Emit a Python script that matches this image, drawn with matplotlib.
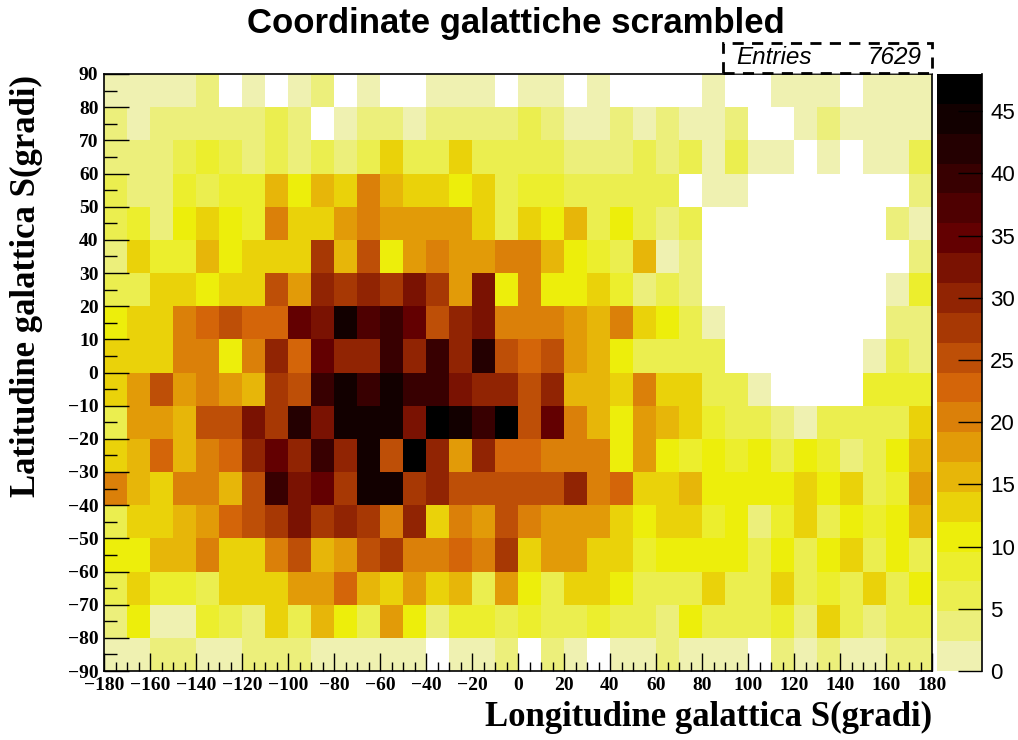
import numpy as np
import matplotlib
matplotlib.use("Agg")
import matplotlib.pyplot as plt
from matplotlib.colors import ListedColormap, BoundaryNorm
from matplotlib.patches import Rectangle
from matplotlib.lines import Line2D
from matplotlib.ticker import MultipleLocator

# 10x10 degree bins
lon_edges = np.arange(-180, 181, 10)
lat_edges = np.arange(-90, 91, 10)

# counts per bin, one list per latitude band (name = lower edge), lon -180 -> 180
row_80 = [2, 2, 2, 2, 4, 0, 2, 0, 2, 4, 0, 2, 0, 0, 2, 2, 2, 0, 2, 2, 0, 2, 0, 0, 0, 0, 2, 0, 0, 2, 2, 2, 0, 2, 2, 2]
row_70 = [4, 2, 4, 3, 4, 4, 3, 6, 4, 0, 2, 4, 4, 2, 4, 4, 3, 4, 6, 4, 2, 1, 4, 2, 3, 2, 2, 4, 0, 0, 2, 4, 1, 2, 2, 2]
row_60 = [4, 4, 4, 6, 9, 6, 4, 6, 4, 7, 4, 6, 13, 6, 6, 13, 6, 6, 7, 6, 4, 4, 4, 6, 4, 6, 2, 6, 2, 2, 0, 2, 0, 2, 1, 6]
row_50 = [6, 4, 3, 8, 6, 9, 8, 16, 11, 15, 13, 21, 16, 13, 14, 11, 13, 6, 8, 9, 6, 6, 7, 6, 6, 0, 2, 2, 0, 0, 0, 0, 0, 0, 0, 4]
row_40 = [6, 9, 4, 11, 13, 11, 9, 21, 13, 14, 18, 20, 18, 19, 18, 18, 13, 6, 14, 11, 15, 6, 10, 6, 4, 6, 0, 0, 0, 0, 0, 0, 0, 0, 4, 2]
row_30 = [4, 13, 8, 9, 16, 11, 13, 14, 13, 28, 16, 25, 11, 18, 21, 18, 19, 20, 21, 16, 11, 8, 6, 15, 2, 4, 0, 0, 0, 0, 0, 0, 0, 0, 0, 4]
row_20 = [6, 7, 13, 14, 11, 13, 12, 25, 18, 30, 27, 31, 28, 32, 27, 18, 33, 11, 20, 10, 11, 13, 9, 4, 6, 4, 0, 0, 0, 0, 0, 0, 0, 0, 2, 9]
row_10 = [10, 12, 13, 20, 22, 24, 22, 22, 34, 32, 44, 36, 39, 34, 25, 29, 32, 20, 20, 20, 17, 15, 20, 12, 10, 5, 1, 0, 0, 0, 0, 0, 0, 0, 3, 3]
row_0 = [12, 14, 12, 20, 20, 10, 20, 29, 22, 34, 29, 30, 39, 29, 39, 29, 41, 24, 22, 24, 17, 15, 10, 5, 5, 6, 5, 0, 0, 0, 0, 0, 0, 1, 5, 3]
row_m10 = [12, 17, 24, 17, 20, 17, 15, 27, 24, 39, 44, 39, 44, 39, 39, 32, 29, 29, 24, 29, 15, 15, 12, 20, 12, 13, 5, 6, 1, 0, 0, 0, 0, 8, 8, 8]
row_m20 = [5, 17, 18, 15, 24, 25, 32, 27, 41, 32, 44, 44, 44, 32, 48, 44, 39, 46, 25, 34, 20, 15, 10, 17, 15, 12, 8, 5, 5, 3, 1, 5, 5, 5, 5, 12]
row_m30 = [12, 15, 22, 15, 20, 22, 29, 34, 29, 39, 29, 44, 24, 47, 29, 17, 29, 22, 22, 20, 20, 20, 10, 17, 10, 8, 10, 8, 10, 5, 10, 8, 3, 5, 10, 15]
row_m40 = [20, 15, 12, 20, 20, 15, 24, 39, 32, 34, 27, 44, 44, 27, 29, 24, 25, 24, 24, 25, 29, 20, 22, 12, 12, 15, 10, 10, 10, 10, 12, 10, 12, 5, 8, 17]
row_m50 = [5, 12, 13, 15, 17, 22, 24, 27, 32, 27, 29, 27, 20, 29, 13, 20, 17, 24, 20, 18, 17, 17, 12, 10, 13, 12, 8, 10, 3, 8, 12, 6, 10, 8, 10, 15]
row_m60 = [11, 10, 15, 16, 20, 13, 14, 21, 25, 16, 18, 26, 27, 20, 21, 23, 20, 28, 13, 18, 17, 13, 14, 9, 10, 11, 10, 11, 6, 10, 7, 11, 13, 6, 10, 6]
row_m70 = [6, 13, 9, 8, 6, 13, 14, 13, 18, 17, 22, 15, 13, 18, 12, 16, 6, 19, 11, 6, 13, 14, 10, 7, 6, 7, 13, 6, 5, 14, 6, 9, 7, 13, 6, 11]
row_m80 = [4, 11, 2, 2, 8, 6, 4, 13, 6, 15, 10, 7, 17, 11, 4, 9, 8, 6, 9, 7, 6, 8, 6, 7, 4, 10, 6, 6, 5, 9, 4, 13, 6, 4, 6, 7]
row_m90 = [2, 2, 3, 4, 2, 1, 4, 3, 4, 2, 2, 1, 2, 2, 0, 2, 1, 4, 0, 3, 2, 0, 2, 2, 3, 2, 1, 2, 0, 4, 2, 3, 2, 2, 4, 3]

counts = np.array([row_80, row_70, row_60, row_50, row_40, row_30, row_20, row_10, row_0,
                   row_m10, row_m20, row_m30, row_m40, row_m50, row_m60, row_m70, row_m80,
                   row_m90], dtype=float)[::-1]
entries = int(counts.sum())

# inverted "dark body radiator" palette, 20 contour levels
stops = np.linspace(0, 1, 9)
red = [242, 234, 237, 230, 212, 156, 99, 45, 0]
green = [243, 238, 238, 168, 101, 45, 0, 0, 0]
blue = [230, 95, 11, 8, 9, 3, 1, 1, 0]
nlev = 20
zmax = 48
frac = (np.arange(nlev) + 0.99) / nlev
colors = np.column_stack([np.interp(frac, stops, c) for c in (red, green, blue)]) / 255.0
cmap = ListedColormap(colors)
norm = BoundaryNorm(np.linspace(0, zmax, nlev + 1), cmap.N, clip=True)

W, H = 1018, 740
fig = plt.figure(figsize=(W / 100, H / 100), dpi=100)
ax = fig.add_axes([104 / W, (H - 671) / H, 828 / W, 597 / H])

mesh = ax.pcolormesh(lon_edges, lat_edges, np.ma.masked_equal(counts, 0),
                     cmap=cmap, norm=norm, antialiased=False, edgecolors="none")
ax.set_xlim(-180, 180)
ax.set_ylim(-90, 90)

ax.xaxis.set_major_locator(MultipleLocator(20))
ax.xaxis.set_minor_locator(MultipleLocator(5))
ax.yaxis.set_major_locator(MultipleLocator(10))
ax.yaxis.set_minor_locator(MultipleLocator(5))
ax.tick_params(axis="x", which="major", direction="in", length=13, width=1, pad=4)
ax.tick_params(axis="x", which="minor", direction="in", length=6.5, width=1)
ax.tick_params(axis="y", which="major", direction="in", length=18, width=1, pad=4)
ax.tick_params(axis="y", which="minor", direction="in", length=9, width=1)
for lab in ax.get_xticklabels() + ax.get_yticklabels():
    lab.set_fontfamily("Liberation Serif")
    lab.set_fontweight("bold")
    lab.set_fontsize(14)
for sp in ax.spines.values():
    sp.set_linewidth(1.2)

# palette axis on the right
cax = fig.add_axes([937 / W, (H - 671) / H, 45 / W, 597 / H])
cb = fig.colorbar(mesh, cax=cax, ticks=range(0, 46, 5))
cb.outline.set_visible(False)
cax.add_line(Line2D([1, 1], [0, 1], transform=cax.transAxes, color="black", lw=1.2, clip_on=False))
cax.yaxis.set_ticks_position("right")
cax.tick_params(direction="in", length=17, width=1, pad=6, labelsize=16)
cax.minorticks_off()
for lab in cax.get_yticklabels():
    lab.set_fontfamily("Liberation Sans")

# titles
fig.text(516 / W, 1 - 23 / H, "Coordinate galattiche scrambled", ha="center", va="center",
         fontsize=25, fontweight="bold", family="Liberation Sans")
fig.text(932 / W, 1 - 726 / H, "Longitudine galattica S(gradi)", ha="right", va="baseline",
         fontsize=25, fontweight="bold", family="Liberation Serif")
fig.text(26 / W, 1 - 75 / H, "Latitudine galattica S(gradi)", ha="center", va="top",
         rotation=90, fontsize=25, fontweight="bold", family="Liberation Serif")

# stats box
fig.patches.append(Rectangle((723 / W, 1 - 73 / H), 209 / W, 30 / H, transform=fig.transFigure,
                             facecolor="white", edgecolor="black", lw=2, linestyle=(0, (4, 3))))
fig.text(736 / W, 1 - 58 / H, "Entries", ha="left", va="center", fontsize=17.5,
         style="italic", family="Liberation Sans")
fig.text(921 / W, 1 - 58 / H, str(entries), ha="right", va="center", fontsize=17.5,
         style="italic", family="Liberation Sans")

fig.savefig("out.png", dpi=100)
